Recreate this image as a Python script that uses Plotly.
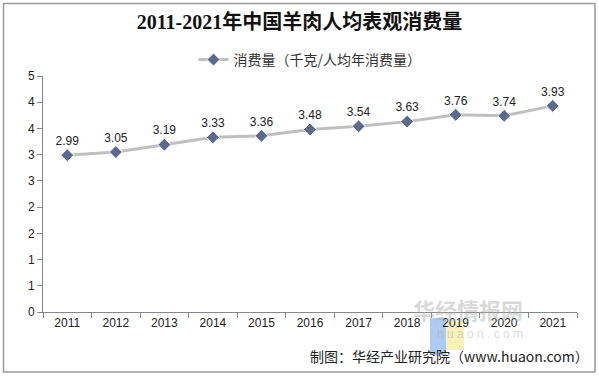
import plotly.graph_objects as go

years = ["2011", "2012", "2013", "2014", "2015", "2016", "2017", "2018", "2019", "2020", "2021"]
consumption = [2.99, 3.05, 3.19, 3.33, 3.36, 3.48, 3.54, 3.63, 3.76, 3.74, 3.93]
ytick_vals = [0, 0.5, 1, 1.5, 2, 2.5, 3, 3.5, 4, 4.5]
ytick_text = ["0", "1", "1", "2", "2", "3", "3", "4", "4", "5"]

title_text = "2011-2021年中国羊肉人均表观消费量"
series_name = "消费量（千克/人均年消费量）"
source_text = "制图：华经产业研究院（www.huaon.com）"

L, T, R, B = 43, 76, 577, 312
PW, PH = R - L, B - T

def px(x):
    return (x - L) / PW

def py(y):
    return (B - y) / PH

fig = go.Figure()
fig.add_trace(go.Scatter(
    x=years, y=consumption, name=series_name,
    mode="lines+markers+text",
    line=dict(color="#BFBFBF", width=3),
    marker=dict(symbol="diamond", size=10, color="#5B6A8D",
                line=dict(color="white", width=1)),
    text=[f"{v:.2f}" for v in consumption],
    textposition="top center",
    textfont=dict(family="Arial, Liberation Sans", size=12, color="#222"),
    cliponaxis=False,
))

fig.update_layout(
    width=599, height=377,
    margin=dict(l=L, r=599 - R, t=T, b=377 - B, autoexpand=False),
    paper_bgcolor="white", plot_bgcolor="white",
    showlegend=True,
    legend=dict(orientation="h", x=0.5, xanchor="center", y=py(60), yanchor="middle",
                font=dict(family="Noto Sans CJK SC", size=14, color="#333"),
                itemwidth=30),
    title=dict(text=f"<b>{title_text}</b>", x=0.5, xanchor="center", y=1 - 22 / 377,
               yanchor="middle",
               font=dict(family="Liberation Serif, Noto Sans CJK SC", size=20, color="#111")),
    xaxis=dict(type="category", showline=True, linecolor="#888", linewidth=1,
               ticks="outside", ticklen=5, tickcolor="#888", tickson="boundaries",
               showgrid=False, zeroline=False,
               tickfont=dict(family="Arial, Liberation Sans", size=12, color="#222"),
               range=[-0.5, 10.5]),
    yaxis=dict(range=[0, 4.5], tickvals=ytick_vals, ticktext=ytick_text,
               showline=True, linecolor="#888", linewidth=1,
               ticks="outside", ticklen=5, tickcolor="#888",
               showgrid=False, zeroline=False,
               tickfont=dict(family="Arial, Liberation Sans", size=12, color="#222")),
)

# outer border
fig.add_shape(type="rect", xref="paper", yref="paper", x0=px(3.5), x1=px(595),
              y0=py(372), y1=py(3.5), line=dict(color="#9A9A9A", width=1.5))

# watermark logo
fig.add_shape(type="rect", xref="paper", yref="paper",
              x0=px(430), x1=px(446), y0=py(355), y1=py(318),
              fillcolor="rgba(120,170,235,0.6)", line=dict(width=0), layer="below")
fig.add_shape(type="rect", xref="paper", yref="paper",
              x0=px(446), x1=px(464), y0=py(350), y1=py(322),
              fillcolor="rgba(250,230,140,0.6)", line=dict(width=0), layer="below")
fig.add_annotation(text="<b>华经情报网</b>", xref="paper", yref="paper",
                   x=px(525), y=py(327), showarrow=False,
                   font=dict(family="Noto Sans CJK SC", size=22, color="rgba(170,170,170,0.45)"))
fig.add_annotation(text="h u a o n . c o m", xref="paper", yref="paper",
                   x=px(525), y=py(343), showarrow=False,
                   font=dict(family="Arial", size=12, color="rgba(170,170,170,0.45)"))

# source
fig.add_annotation(text=source_text, xref="paper", yref="paper",
                   x=px(591), xanchor="right", y=py(356), yanchor="middle",
                   showarrow=False,
                   font=dict(family="Noto Sans CJK SC", size=14, color="#222"))

fig.write_html("out.html", config={"displayModeBar": False},
               post_script="document.body.style.margin='0';document.body.style.overflow='hidden';")
